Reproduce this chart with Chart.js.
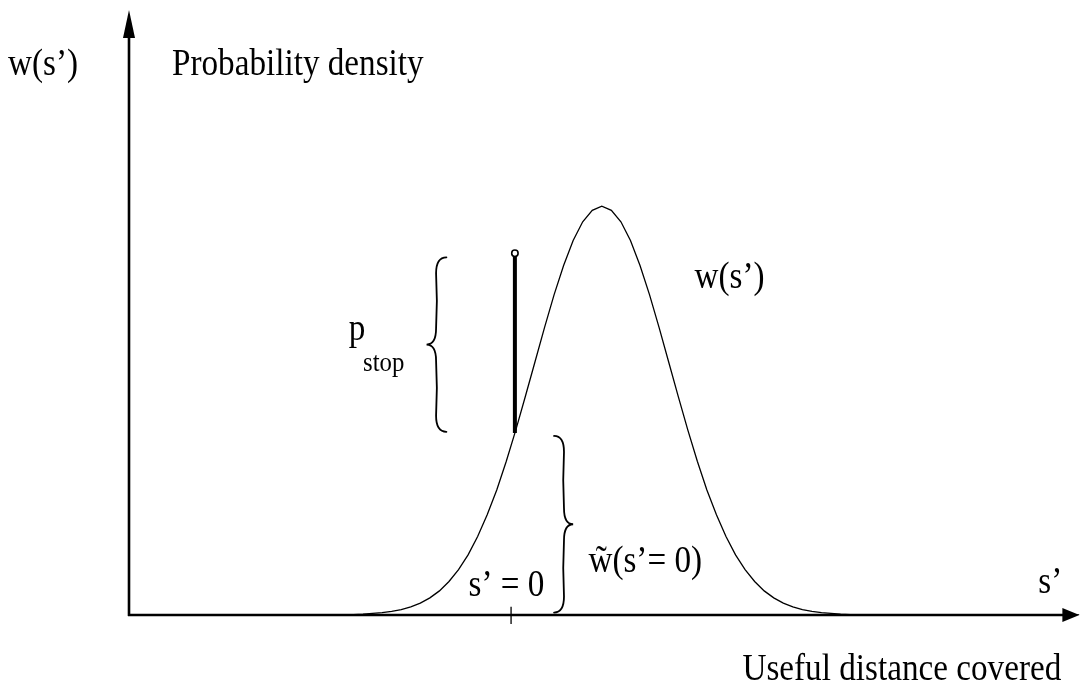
<!DOCTYPE html>
<html>
<head>
<meta charset="utf-8">
<title>Probability density w(s')</title>
<script src="https://cdn.jsdelivr.net/npm/chart.js@4.4.1/dist/chart.umd.min.js"></script>
<style>
  html, body { margin: 0; padding: 0; background: #ffffff; }
  #wrap { width: 1085px; height: 688px; position: relative; }
</style>
</head>
<body>
<div id="wrap"><canvas id="chart"></canvas></div>
<script>
// Useful distance covered s' (arbitrary units) and the density w(s')
const densityX = [
  -4.00,
  -1.75, -1.65, -1.55, -1.45, -1.35, -1.25, -1.15, -1.05, -0.95, -0.85,
  -0.75, -0.65, -0.55, -0.45, -0.35, -0.25, -0.15, -0.05,  0.05,  0.15,
   0.25,  0.35,  0.45,  0.55,  0.65,  0.75,  0.85,  0.95,  1.05,  1.15,
   1.25,  1.35,  1.45,  1.55,  1.65,  1.75,  1.85,  1.95,  2.05,  2.15,
   2.25,  2.35,  2.45,  2.55,  2.65,  2.75,  2.85,  2.95,  3.05,  3.15,
   3.25,  3.35,  3.45,  3.55,  3.65,
   5.95
];
const densityY = [
  0.000,
  0.001, 0.001, 0.002, 0.004, 0.006, 0.009, 0.013, 0.020, 0.029, 0.042,
  0.059, 0.082, 0.111, 0.147, 0.192, 0.245, 0.306, 0.376, 0.453, 0.535,
  0.619, 0.703, 0.783, 0.855, 0.916, 0.962, 0.990, 1.000, 0.990, 0.962,
  0.916, 0.855, 0.783, 0.703, 0.619, 0.535, 0.453, 0.376, 0.306, 0.245,
  0.192, 0.147, 0.111, 0.082, 0.059, 0.042, 0.029, 0.020, 0.013, 0.009,
  0.006, 0.004, 0.002, 0.001, 0.001,
  0.000
];

// Stopping point s' = 0: density there, and the top of the p_stop stem
const stopX = [0.04, 0.04];
const stopY = [0.445, 0.885];

// Marker on the s' axis at s' = 0
const zeroTickX = [0, 0];
const zeroTickY = [-0.022, 0.02];

// Axis extents
const axisXRange = [-4, 5.95];
const axisYRange = [0, 1.48];

// Text
const yAxisSymbol = 'w(s\u2019)';
const yAxisTitle = 'Probability density';
const curveLabel = 'w(s\u2019)';
const pStopMain = 'p';
const pStopSub = 'stop';
const zeroLabel = 's\u2019 = 0';
const wTildeLabel = 'w\u0303(s\u2019= 0)';
const xAxisSymbol = 's\u2019';
const xAxisTitle = 'Useful distance covered';

const toPoints = (xs, ys) => xs.map((x, i) => ({ x, y: ys[i] }));

const FONT_FAMILY = '"Liberation Serif", "Times New Roman", serif';
const SQUEEZE = 0.885;
const TEXT_SIZE = 37.5;

function drawText(ctx, str, px, py, size, align) {
  ctx.save();
  ctx.font = size + 'px ' + FONT_FAMILY;
  ctx.fillStyle = '#000';
  ctx.textBaseline = 'alphabetic';
  ctx.textAlign = align || 'left';
  ctx.translate(px, py);
  ctx.scale(SQUEEZE, 1);
  ctx.fillText(str, 0, 0);
  ctx.restore();
}

// Curly brace between two heights, opening towards xEnd and pointing at xTip
function drawBrace(ctx, xEnd, xTip, yTop, yBot) {
  const xSpine = xEnd + (xTip - xEnd) * 0.52;
  const yMid = (yTop + yBot) / 2;
  const r = 16;
  const bow = (xTip - xEnd) * 0.08;
  ctx.save();
  ctx.strokeStyle = '#000';
  ctx.lineWidth = 1.8;
  ctx.lineCap = 'round';
  ctx.beginPath();
  ctx.moveTo(xEnd, yTop);
  ctx.quadraticCurveTo(xSpine, yTop, xSpine, yTop + r);
  ctx.quadraticCurveTo(xSpine - bow, (yTop + yMid) / 2, xSpine, yMid - r);
  ctx.quadraticCurveTo(xSpine, yMid, xTip, yMid);
  ctx.quadraticCurveTo(xSpine, yMid, xSpine, yMid + r);
  ctx.quadraticCurveTo(xSpine - bow, (yMid + yBot) / 2, xSpine, yBot - r);
  ctx.quadraticCurveTo(xSpine, yBot, xEnd, yBot);
  ctx.stroke();
  ctx.restore();
}

const sketchPlugin = {
  id: 'sketch',
  beforeDatasetsDraw(chart) {
    const ctx = chart.ctx;
    const xs = chart.scales.x, ys = chart.scales.y;
    const x0 = xs.getPixelForValue(axisXRange[0]);
    const x1 = xs.getPixelForValue(axisXRange[1]);
    const y0 = ys.getPixelForValue(axisYRange[0]);
    const y1 = ys.getPixelForValue(axisYRange[1]);
    ctx.save();
    ctx.strokeStyle = '#000';
    ctx.fillStyle = '#000';
    ctx.lineWidth = 2.6;
    // vertical axis with arrow head
    ctx.beginPath();
    ctx.moveTo(x0, y0 + 1);
    ctx.lineTo(x0, y1 + 26);
    ctx.stroke();
    ctx.beginPath();
    ctx.moveTo(x0, y1);
    ctx.lineTo(x0 - 6, y1 + 28);
    ctx.lineTo(x0 + 6, y1 + 28);
    ctx.closePath();
    ctx.fill();
    // horizontal axis with arrow head
    ctx.beginPath();
    ctx.moveTo(x0 - 1, y0);
    ctx.lineTo(x1 - 15, y0);
    ctx.stroke();
    ctx.beginPath();
    ctx.moveTo(x1, y0);
    ctx.lineTo(x1 - 17, y0 - 7);
    ctx.lineTo(x1 - 17, y0 + 7);
    ctx.closePath();
    ctx.fill();
    ctx.restore();
  },
  afterDatasetsDraw(chart) {
    const ctx = chart.ctx;
    const xs = chart.scales.x, ys = chart.scales.y;
    const X = v => xs.getPixelForValue(v);
    const Y = v => ys.getPixelForValue(v);

    // brace beside the p_stop stem
    drawBrace(ctx, X(-0.677), X(-0.885), Y(stopY[1] - 0.01), Y(stopY[0] + 0.003));
    // brace beside the density at s' = 0
    drawBrace(ctx, X(0.45), X(0.65), Y(stopY[0] - 0.007), Y(0.006));

    drawText(ctx, yAxisSymbol, 8, Y(1.321), TEXT_SIZE);
    drawText(ctx, yAxisTitle, X(-3.55), Y(1.321), TEXT_SIZE);
    drawText(ctx, curveLabel, X(1.92), Y(0.80), TEXT_SIZE);
    drawText(ctx, pStopMain, X(-1.70), Y(0.673), TEXT_SIZE);
    drawText(ctx, pStopSub, X(-1.55), Y(0.598), 28);
    drawText(ctx, zeroLabel, X(-0.445), Y(0.047), TEXT_SIZE);
    drawText(ctx, wTildeLabel, X(0.81), Y(0.105), TEXT_SIZE);
    drawText(ctx, xAxisSymbol, X(5.52), Y(0.055), TEXT_SIZE);
    drawText(ctx, xAxisTitle, X(5.76), Y(-0.16), TEXT_SIZE, 'right');
  }
};

new Chart(document.getElementById('chart'), {
  type: 'scatter',
  data: {
    datasets: [
      {
        label: 'w(s\u2019)',
        data: toPoints(densityX, densityY),
        showLine: true,
        borderColor: '#000',
        borderWidth: 1.3,
        pointRadius: 0,
        tension: 0
      },
      {
        label: 'p_stop',
        data: toPoints(stopX, stopY),
        showLine: true,
        borderColor: '#000',
        borderWidth: 4,
        pointRadius: [0, 3.2],
        pointBackgroundColor: '#fff',
        pointBorderColor: '#000',
        pointBorderWidth: 1.6,
        clip: false
      },
      {
        label: 's\u2019 = 0',
        data: toPoints(zeroTickX, zeroTickY),
        showLine: true,
        borderColor: '#000',
        borderWidth: 1.3,
        pointRadius: 0,
        clip: false
      }
    ]
  },
  options: {
    responsive: true,
    maintainAspectRatio: false,
    devicePixelRatio: 1,
    animation: false,
    layout: { padding: { left: 129, top: 10, right: 1, bottom: 73 } },
    plugins: { legend: { display: false }, tooltip: { enabled: false } },
    scales: {
      x: { type: 'linear', display: false, min: axisXRange[0], max: axisXRange[1] },
      y: { type: 'linear', display: false, min: axisYRange[0], max: axisYRange[1] }
    }
  },
  plugins: [sketchPlugin]
});
</script>
</body>
</html>
